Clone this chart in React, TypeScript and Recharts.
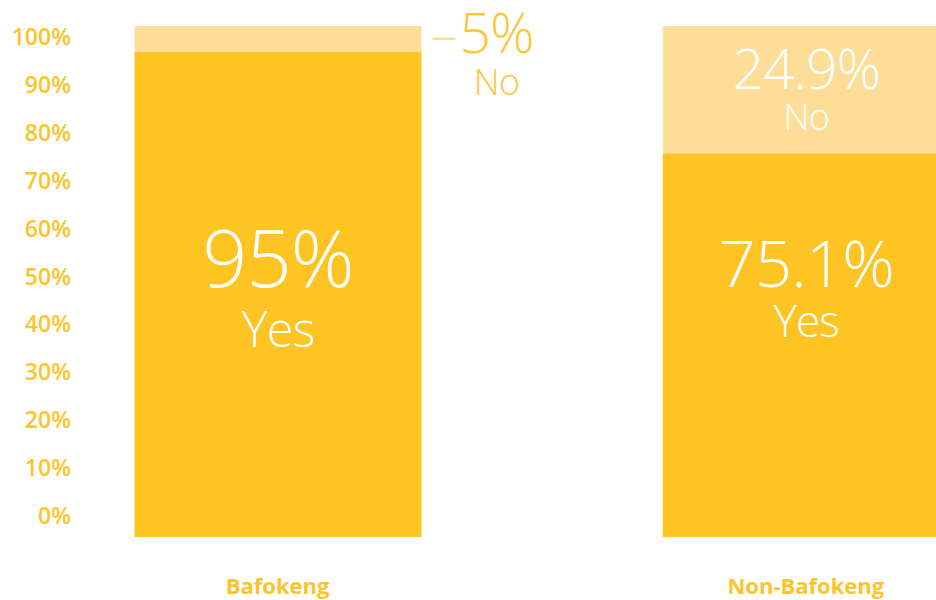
import { BarChart, Bar, XAxis, YAxis, LabelList } from "recharts";

const categories = ["Bafokeng", "Non-Bafokeng"];
const yesValues = [95, 75.1];
const noValues = [5, 24.9];
const tickValues = [0, 10, 20, 30, 40, 50, 60, 70, 80, 90, 100];

const data = categories.map((name, i) => ({ name, yes: yesValues[i], no: noValues[i] }));

const YES_COLOR = "#FDC424";
const NO_COLOR = "#FEDD98";
const TEXT_COLOR = "#FDC42A";
const LIGHT_FONT = "'Open Sans', Lato, Roboto, sans-serif";
const BOLD_FONT = "'Open Sans', 'Noto Sans', sans-serif";

// label sizes per category (big for Bafokeng, smaller for Non-Bafokeng)
const yesLabelStyle = [
  { valueSize: 79, textSize: 49, textGap: 60 },
  { valueSize: 65, textSize: 44, textGap: 50 },
];

const YTick = (props: any) => {
  const { y, payload } = props;
  return (
    <text x={71} y={y} dy={8} textAnchor="end" fill={TEXT_COLOR} fontSize={23} fontWeight={600} fontFamily={BOLD_FONT}>
      {payload.value}%
    </text>
  );
};

const XTick = (props: any) => {
  const { x, y, payload } = props;
  return (
    <text x={x} y={y + 57} textAnchor="middle" fill={TEXT_COLOR} fontSize={22} fontWeight={700} fontFamily={BOLD_FONT}>
      {payload.value}
    </text>
  );
};

const YesLabel = (props: any) => {
  const { x, y, width, height, value, index } = props;
  const s = yesLabelStyle[index];
  const cx = x + width / 2;
  const base = y + height - 250;
  return (
    <g fontFamily={LIGHT_FONT} fontWeight={300} fill="#ffffff" textAnchor="middle" letterSpacing="-0.05em">
      <text x={cx} y={base} fontSize={s.valueSize}>{value}%</text>
      <text x={cx} y={base + s.textGap} fontSize={s.textSize}>Yes</text>
    </g>
  );
};

const NoLabel = (props: any) => {
  const { x, y, width, height, value } = props;
  if (height < 40) {
    // too thin: put the label outside with a short leader
    const right = x + width;
    const cy = y + height / 2;
    return (
      <g fontFamily={LIGHT_FONT} fontWeight={300} textAnchor="middle" letterSpacing="-0.05em">
        <line x1={right + 11} x2={right + 34} y1={cy} y2={cy} stroke={NO_COLOR} strokeWidth={2.5} />
        <text x={right + 75} y={y + 27} fontSize={55} fill="#FDC63A">{value}%</text>
        <text x={right + 75} y={y + 69} fontSize={36} fill="#FDC63A">No</text>
      </g>
    );
  }
  const cx = x + width / 2;
  return (
    <g fontFamily={LIGHT_FONT} fontWeight={300} fill="#ffffff" textAnchor="middle" letterSpacing="-0.05em">
      <text x={cx} y={y + 63} fontSize={55}>{value}%</text>
      <text x={cx} y={y + 104} fontSize={36}>No</text>
    </g>
  );
};

export default function App() {
  return (
    <div style={{ position: "fixed", left: 0, top: 0, width: 936, height: 600, overflow: "hidden", background: "#fff" }}>
      <BarChart
        width={1070}
        height={600}
        data={data}
        margin={{ top: 26, right: 0, bottom: 0, left: 12.5 }}
        barSize={287}
      >
        <XAxis dataKey="name" axisLine={false} tickLine={false} tickSize={0} tickMargin={0} height={63} tick={<XTick />} interval={0} />
        <YAxis yAxisId="bars" domain={[0, 100]} hide />
        <YAxis
          yAxisId="ticks"
          type="number"
          domain={[-4.38, 102.3]}
          ticks={tickValues}
          allowDataOverflow
          width={1}
          axisLine={false}
          tickLine={false}
          tick={<YTick />}
          interval={0}
        />
        <Bar yAxisId="bars" dataKey="yes" stackId="a" fill={YES_COLOR} isAnimationActive={false}>
          <LabelList dataKey="yes" content={<YesLabel />} />
        </Bar>
        <Bar yAxisId="bars" dataKey="no" stackId="a" fill={NO_COLOR} isAnimationActive={false}>
          <LabelList dataKey="no" content={<NoLabel />} />
        </Bar>
      </BarChart>
    </div>
  );
}
